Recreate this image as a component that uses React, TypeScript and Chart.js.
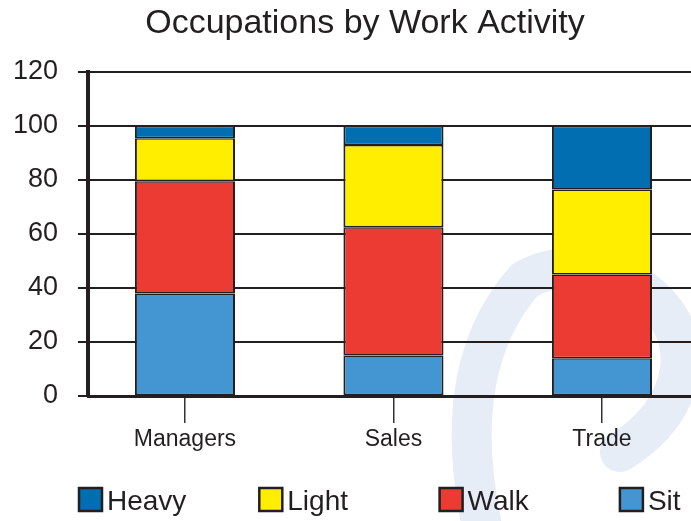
import React, { useEffect, useRef } from "react";
import { Chart, registerables } from "chart.js";

Chart.register(...registerables);

const categories = ["Managers", "Sales", "Trade"];
const sitValues = [38, 15, 14];
const walkValues = [41.5, 47.5, 31];
const lightValues = [16, 30.5, 31.5];
const heavyValues = [4.5, 7, 23.5];
const seriesNames = ["Sit", "Walk", "Light", "Heavy"];
const seriesColors = ["#4496d3", "#ec3b32", "#ffee00", "#006eb0"];
const yMin = 0;
const yMax = 120;
const yStep = 20;
const titleText = "Occupations by Work Activity";

const FONT = "'Liberation Sans', Arial, Helvetica, sans-serif";
const INK = "#231f20";

const watermarkPlugin = {
  id: "watermark",
  beforeDraw(chart: any) {
    const ctx = chart.ctx;
    ctx.save();
    ctx.strokeStyle = "#e6edf6";
    ctx.lineCap = "round";
    ctx.lineJoin = "round";
    ctx.lineWidth = 40;
    ctx.beginPath();
    ctx.moveTo(485, 540);
    ctx.quadraticCurveTo(445, 370, 525, 280);
    ctx.bezierCurveTo(585, 245, 690, 290, 680, 370);
    ctx.quadraticCurveTo(672, 420, 620, 452);
    ctx.stroke();
    ctx.restore();
  },
};

const titlePlugin = {
  id: "customTitle",
  afterDraw(chart: any) {
    const ctx = chart.ctx;
    ctx.save();
    ctx.font = `34px ${FONT}`;
    ctx.fillStyle = INK;
    ctx.textAlign = "center";
    ctx.textBaseline = "alphabetic";
    ctx.fillText(titleText, 365, 33);
    ctx.restore();
  },
};

const legendPlugin = {
  id: "customLegend",
  afterDraw(chart: any) {
    const ctx = chart.ctx;
    const ds = chart.data.datasets;
    const order = [3, 2, 1, 0];
    ctx.save();
    ctx.font = `28px ${FONT}`;
    ctx.textBaseline = "alphabetic";
    ctx.textAlign = "left";
    order.forEach((di, i) => {
      const x = 79 + i * 180.3;
      const y = 488;
      ctx.fillStyle = ds[di].backgroundColor;
      ctx.fillRect(x, y, 23, 23);
      ctx.lineWidth = 2.5;
      ctx.strokeStyle = INK;
      ctx.strokeRect(x, y, 23, 23);
      ctx.fillStyle = INK;
      ctx.fillText(ds[di].label, x + 28, 510);
    });
    ctx.restore();
  },
};

export default function App() {
  const ref = useRef<HTMLCanvasElement | null>(null);

  useEffect(() => {
    if (!ref.current) return;
    const seriesValues = [sitValues, walkValues, lightValues, heavyValues];
    const chart = new Chart(ref.current, {
      type: "bar",
      data: {
        datasets: seriesValues.map((vals, si) => ({
          label: seriesNames[si],
          data: vals.map((v, i) => ({ x: i, y: v })),
          backgroundColor: seriesColors[si],
          borderColor: INK,
          borderWidth: { top: 1.5, bottom: 1.5, left: 2, right: 2 },
          borderSkipped: false,
          categoryPercentage: 1,
          barPercentage: 0.48,
        })),
      },
      options: {
        responsive: false,
        animation: false,
        events: [],
        layout: { padding: { left: 0, right: 0, top: 72, bottom: 0 } },
        plugins: {
          legend: { display: false },
          tooltip: { enabled: false },
          title: { display: false },
        },
        scales: {
          x: {
            type: "linear",
            stacked: true,
            offset: false,
            min: -0.465,
            max: 2.427,
            bounds: "data",
            afterBuildTicks: (scale: any) => {
              scale.ticks = categories.map((_, i) => ({ value: i }));
            },
            afterFit: (scale: any) => {
              scale.height = 125;
            },
            grid: {
              display: true,
              offset: false,
              drawOnChartArea: false,
              drawTicks: true,
              tickLength: 27,
              color: "#333",
              lineWidth: 1.5,
            },
            border: { display: true, color: INK, width: 3 },
            ticks: {
              autoSkip: false,
              maxRotation: 0,
              padding: 3,
              color: INK,
              font: { family: FONT, size: 23 },
              callback: (v: any) => {
                const n = Math.round(Number(v));
                return categories[n] ?? "";
              },
            },
          },
          y: {
            stacked: true,
            min: yMin,
            max: yMax,
            afterFit: (scale: any) => {
              scale.width = 88;
            },
            grid: {
              color: INK,
              lineWidth: 2,
              drawTicks: true,
              tickLength: 10,
            },
            border: { display: true, color: INK, width: 4 },
            ticks: {
              stepSize: yStep,
              padding: 20,
              color: INK,
              font: { family: FONT, size: 27 },
            },
          },
        },
      },
      plugins: [watermarkPlugin, titlePlugin, legendPlugin],
    });
    return () => chart.destroy();
  }, []);

  return (
    <div style={{ position: "fixed", left: 0, top: 0, width: 691, height: 521 }}>
      <canvas ref={ref} width={691} height={521} style={{ width: 691, height: 521 }} />
    </div>
  );
}
